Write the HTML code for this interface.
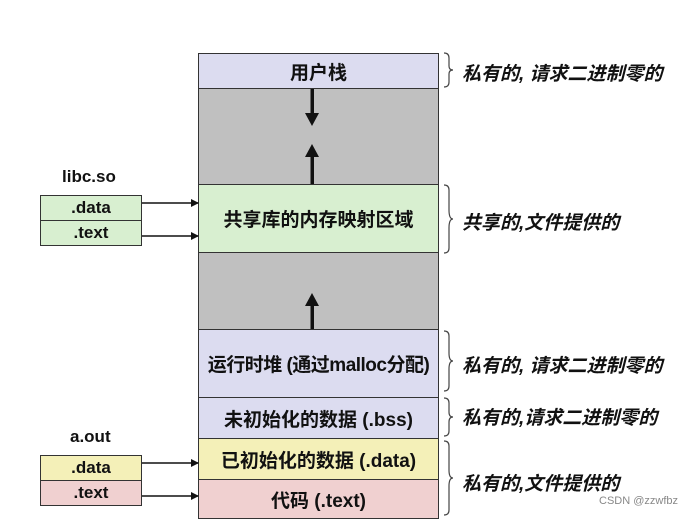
<!DOCTYPE html>
<html><head><meta charset="utf-8"><style>
body{margin:0;width:692px;height:518px;background:#fff;position:relative;overflow:hidden;font-family:"Liberation Sans","Noto Sans CJK SC",sans-serif;}
.b{position:absolute;box-sizing:border-box;border:1.5px solid #333;display:flex;align-items:center;justify-content:center;font-weight:bold;font-size:19px;color:#111;white-space:nowrap;}
.s{font-size:17px;}
.r{position:absolute;left:462px;font-size:19px;font-weight:bold;font-style:italic;color:#111;white-space:nowrap;}
.l{position:absolute;font-weight:bold;font-size:17px;color:#111;}
</style></head><body>
<div class="b" style="left:198px;top:53px;width:241px;height:36px;background:#dcdcf0">用户栈</div>
<div class="b" style="left:198px;top:88px;width:241px;height:97px;background:#c0c0c0"></div>
<div class="b" style="left:198px;top:184px;width:241px;height:69px;background:#d8efd0">共享库的内存映射区域</div>
<div class="b" style="left:198px;top:252px;width:241px;height:78px;background:#c0c0c0"></div>
<div class="b" style="left:198px;top:329px;width:241px;height:69px;background:#dcdcf0;letter-spacing:-0.5px">运行时堆 (通过malloc分配)</div>
<div class="b" style="left:198px;top:397px;width:241px;height:42px;background:#dcdcf0">未初始化的数据 (.bss)</div>
<div class="b" style="left:198px;top:438px;width:241px;height:42px;background:#f4f0b8">已初始化的数据 (.data)</div>
<div class="b" style="left:198px;top:479px;width:241px;height:40px;background:#f0d0d0">代码 (.text)</div>

<div class="l" style="left:62px;top:167px">libc.so</div>
<div class="b s" style="left:40px;top:195px;width:102px;height:26px;background:#d8efd0">.data</div>
<div class="b s" style="left:40px;top:220px;width:102px;height:26px;background:#d8efd0">.text</div>
<div class="l" style="left:70px;top:427px">a.out</div>
<div class="b s" style="left:40px;top:455px;width:102px;height:26px;background:#f4f0b8">.data</div>
<div class="b s" style="left:40px;top:480px;width:102px;height:26px;background:#f0d0d0">.text</div>

<svg width="692" height="518" style="position:absolute;left:0;top:0">
<defs><marker id="m" markerWidth="8" markerHeight="8" refX="7" refY="4" orient="auto" markerUnits="userSpaceOnUse"><path d="M0,0 L8,4 L0,8z" fill="#111"/></marker></defs>
<g stroke="#111" stroke-width="1.5" fill="none">
<line x1="142" y1="203" x2="198" y2="203" marker-end="url(#m)"/>
<line x1="142" y1="236" x2="198" y2="236" marker-end="url(#m)"/>
<line x1="142" y1="463" x2="198" y2="463" marker-end="url(#m)"/>
<line x1="142" y1="496" x2="198" y2="496" marker-end="url(#m)"/>
</g>
<g fill="#111">
<rect x="310.5" y="89" width="3.5" height="26"/><path d="M305,113 L319,113 L312,126z"/>
<rect x="310.5" y="155" width="3.5" height="29"/><path d="M305,157 L319,157 L312,144z"/>
<rect x="310.5" y="304" width="3.5" height="25"/><path d="M305,306 L319,306 L312,293z"/>
</g>
<g stroke="#444" stroke-width="1.2" fill="none">
<path d="M444,53 q5,0 5,5 v8 q0,4 4,4 q-4,0 -4,4 v8 q0,5 -5,5"/>
<path d="M444,185 q5,0 5,5 v20 q0,9 4,9 q-4,0 -4,9 v20 q0,5 -5,5"/>
<path d="M444,331 q5,0 5,5 v17 q0,8 4,8 q-4,0 -4,8 v17 q0,5 -5,5"/>
<path d="M444,398 q5,0 5,5 v9 q0,5 4,5 q-4,0 -4,5 v9 q0,5 -5,5"/>
<path d="M444,441 q5,0 5,5 v24 q0,8 4,8 q-4,0 -4,8 v24 q0,5 -5,5"/>
</g>
</svg>
<div class="r" style="top:59px">私有的, 请求二进制零的</div>
<div class="r" style="top:208px">共享的,文件提供的</div>
<div class="r" style="top:351px">私有的, 请求二进制零的</div>
<div class="r" style="top:403px">私有的,请求二进制零的</div>
<div class="r" style="top:469px">私有的,文件提供的</div>
<div style="position:absolute;left:599px;top:495px;font-size:11px;color:#888">CSDN @zzwfbz</div>
</body></html>
